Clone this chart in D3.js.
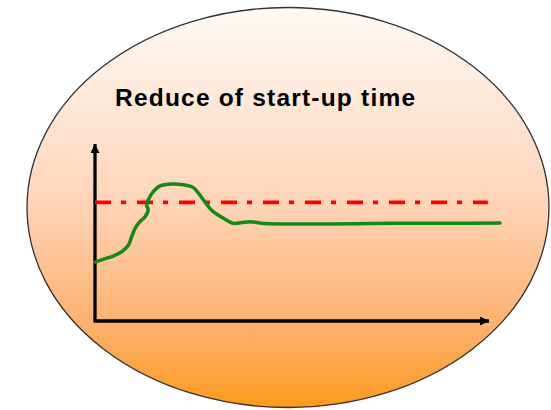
<!DOCTYPE html>
<html>
<head>
<meta charset="utf-8">
<script src="https://cdn.jsdelivr.net/npm/d3@7"></script>
<style>
  body { margin: 0; background: #fff; }
  svg { display: block; }
</style>
</head>
<body>
<svg id="chart" width="551" height="410"></svg>
<script>
// chart values (x = time, y = response)
const titleText = "Reduce of start-up time";
const timeValues = [0, 2.1, 4.6, 6.8, 8.5, 9.3, 10.2, 11.4, 12.7, 13.5, 13.1, 13.5, 14.8, 16.5, 19.5, 22.4, 24.9, 26.6, 28.8, 30.0, 32.6, 35.0, 37.3, 39.3, 43.1, 52.0, 64.7, 77.4, 90.1, 102.8];
const responseValues = [33.3, 34.9, 36.7, 39.2, 42.9, 47.6, 52.4, 56.1, 58.9, 62.7, 65.5, 68.4, 73.1, 76.3, 77.4, 77.0, 75.5, 71.2, 64.6, 61.8, 58.0, 55.2, 55.6, 56.1, 55.1, 54.8, 54.9, 55.2, 55.2, 55.4];
const targetLevel = 67;
const targetRange = [0, 99.7];

const svg = d3.select("#chart");

// background ellipse with vertical gradient
const grad = svg.append("defs").append("linearGradient")
    .attr("id", "bg")
    .attr("x1", 0).attr("y1", 0).attr("x2", 0).attr("y2", 1);
grad.append("stop").attr("offset", "0%").attr("stop-color", "#fffaf5");
grad.append("stop").attr("offset", "50%").attr("stop-color", "#fed3b6");
grad.append("stop").attr("offset", "80%").attr("stop-color", "#fcb06c");
grad.append("stop").attr("offset", "100%").attr("stop-color", "#fd9a1c");

svg.append("ellipse")
    .attr("cx", 288).attr("cy", 207.5)
    .attr("rx", 261).attr("ry", 200)
    .style("fill", "url(#bg)")
    .style("stroke", "#333")
    .style("stroke-width", 1.3);

svg.append("text")
    .attr("x", 115).attr("y", 106)
    .style("font-family", "'Liberation Sans', Arial, sans-serif")
    .style("font-weight", "bold")
    .style("font-size", "24.5px")
    .style("letter-spacing", "1.2px")
    .style("fill", "#000")
    .text(titleText);

const xScale = d3.scaleLinear().domain([0, 100]).range([95, 489]);
const yScale = d3.scaleLinear().domain([0, 100]).range([321, 144]);

// arrow heads
const defs = svg.select("defs");
defs.append("marker")
    .attr("id", "arrow")
    .attr("viewBox", "0 0 10 10")
    .attr("refX", 10).attr("refY", 5)
    .attr("markerUnits", "userSpaceOnUse")
    .attr("markerWidth", 11).attr("markerHeight", 9)
    .attr("orient", "auto")
    .append("path")
    .attr("d", "M0,0L10,5L0,10Z")
    .style("fill", "#000");

// axes
svg.append("line")
    .attr("x1", xScale(0)).attr("y1", yScale(0))
    .attr("x2", xScale(0)).attr("y2", yScale(100))
    .style("stroke", "#000").style("stroke-width", 3.3)
    .attr("marker-end", "url(#arrow)");
svg.append("line")
    .attr("x1", xScale(0) - 1.6).attr("y1", yScale(0))
    .attr("x2", xScale(100)).attr("y2", yScale(0))
    .style("stroke", "#000").style("stroke-width", 3.3)
    .attr("marker-end", "url(#arrow)");

// target line (dash-dot)
svg.append("line")
    .attr("x1", xScale(targetRange[0])).attr("y1", yScale(targetLevel))
    .attr("x2", xScale(targetRange[1])).attr("y2", yScale(targetLevel))
    .style("stroke", "#ff0000")
    .style("stroke-width", 3.7)
    .style("stroke-dasharray", "16,10,5,11");

// response curve
const line = d3.line()
    .x(d => xScale(d[0]))
    .y(d => yScale(d[1]))
    .curve(d3.curveCatmullRom.alpha(0.5));

svg.append("path")
    .datum(d3.zip(timeValues, responseValues))
    .attr("d", line)
    .style("fill", "none")
    .style("stroke", "#138a13")
    .style("stroke-width", 3.5)
    .style("stroke-linejoin", "round")
    .style("stroke-linecap", "round");
</script>
</body>
</html>
